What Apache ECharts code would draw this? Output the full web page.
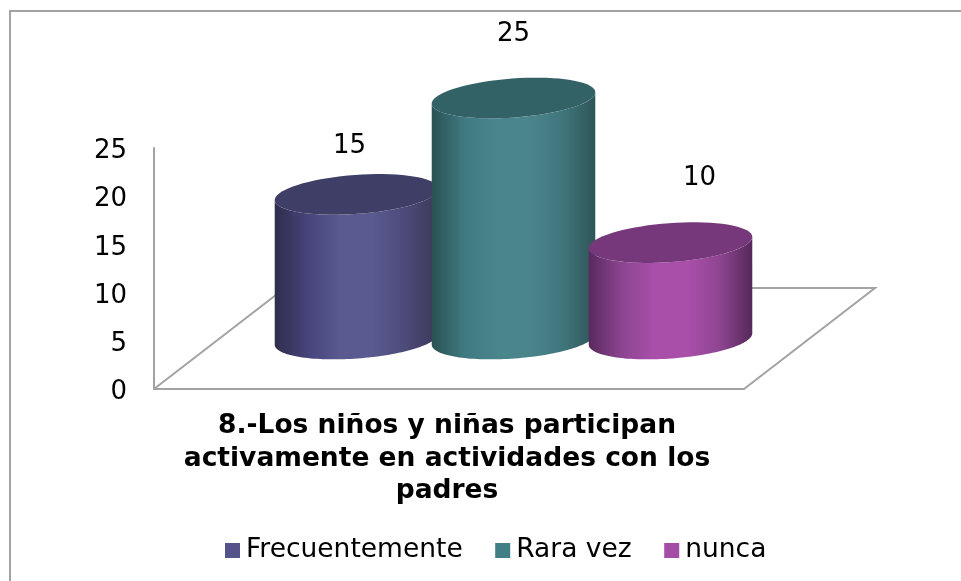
<!DOCTYPE html>
<html><head><meta charset="utf-8">
<style>html,body{margin:0;padding:0;background:#fff}#c{width:961px;height:581px}</style>
<script src="https://cdn.jsdelivr.net/npm/echarts@6/dist/echarts.min.js"></script>
</head><body><div id="c"></div>
<script>
const categories = ['8.-Los niños y niñas participan\nactivamente en actividades con los\npadres'];
const seriesNames = ['Frecuentemente', 'Rara vez', 'nunca'];
const frecuentemente = [15];
const raraVez = [25];
const nunca = [10];
const yTicks = {min: 0, max: 25, interval: 5};

const FONT = '"DejaVu Sans", Verdana, sans-serif';
const GRAY = '#a3a3a3';
const palette = [
  {legend:'#55548a', top:'#3f3e66', stops:['#2f2d4c','#46447a','#5a5a90','#5a5a90','#4c4a78','#3a3858']},
  {legend:'#417f86', top:'#336266', stops:['#2a5154','#3f7a80','#4b858c','#4b858c','#3f767c','#2f5558']},
  {legend:'#a44da6', top:'#76387a', stops:['#582a5e','#8c4490','#a94faa','#a94faa','#8f4592','#55285a']}
];
const barStep = 157, depthX = 64.5, depthY = 50, rx = 82, ry = 19.5, tilt = -4.2 * Math.PI / 180;
const labelShift = [[-7, -48], [0, -64], [29, -64]];
const floorDX = 131, floorDY = 101;

function ell(cx, cy, t) {
  const c = Math.cos(t), s = Math.sin(t), ct = Math.cos(tilt), st = Math.sin(tilt);
  return [cx + rx * c * ct - ry * s * st, cy + rx * c * st + ry * s * ct];
}
function arc(cx, cy, from, to) {
  const pts = [];
  for (let i = 0; i <= 72; i++) pts.push(ell(cx, cy, from + (to - from) * i / 72));
  return pts;
}
function cylinder(idx) {
  return function (params, api) {
    const base = api.coord([0, 0]);
    const v = api.value(1);
    const topP = api.coord([0, v]);
    const cx = base[0] + depthX + (idx - 1) * barStep;
    const by = base[1] - depthY;
    const ty = topP[1] - depthY;
    const p = palette[idx];
    const n = p.stops.length;
    const front = arc(cx, by, Math.PI, 0);
    const back = arc(cx, ty, 0, Math.PI);
    return {
      type: 'group',
      children: [
        {type: 'polygon', shape: {points: front.concat(back)},
         style: {fill: new echarts.graphic.LinearGradient(0, 0, 1, 0,
           p.stops.map((c, i) => ({offset: i / (n - 1), color: c})))}},
        {type: 'polygon', shape: {points: arc(cx, ty, 0, 2 * Math.PI)}, style: {fill: p.top}},
        {type: 'text', x: cx + labelShift[idx][0], y: ty + labelShift[idx][1],
         style: {text: String(v), fill: '#000', font: '26px ' + FONT, textAlign: 'center', textVerticalAlign: 'middle'}}
      ]
    };
  };
}
function floor(params, api) {
  const cs = params.coordSys;
  const y0 = cs.y + cs.height, x0 = cs.x, x1 = cs.x + cs.width;
  return {type: 'polyline', shape: {points: [[x0, y0], [x0 + floorDX, y0 - floorDY], [x1 + floorDX, y0 - floorDY], [x1, y0]]},
    style: {stroke: GRAY, lineWidth: 2, fill: null}};
}
const chart = echarts.init(document.getElementById('c'), null, {renderer: 'canvas'});
const mk = (name, vals, i) => ({
  name, type: 'custom', z: 3 + i, renderItem: cylinder(i),
  itemStyle: {color: palette[i].legend},
  encode: {x: 0, y: 1},
  data: vals.map((v, k) => [k, v])
});
chart.setOption({
  animation: false,
  backgroundColor: '#fff',
  textStyle: {fontFamily: FONT, color: '#000'},
  grid: {left: 154, right: 217, top: 148, bottom: 192, containLabel: false},
  graphic: [{type: 'polyline', silent: true, shape: {points: [[10, 581], [10, 11], [961, 11]]},
    style: {stroke: GRAY, lineWidth: 2, fill: null}}],
  legend: {
    left: 220, top: 532, icon: 'rect', itemWidth: 15, itemHeight: 15, itemGap: 32.5, itemStyle: {borderWidth: 0},
    data: seriesNames,
    textStyle: {fontFamily: FONT, fontSize: 26.5, color: '#000', padding: [0, 0, 0, 1]}
  },
  xAxis: {
    type: 'category', data: categories,
    axisLine: {show: true, lineStyle: {color: GRAY, width: 2}},
    axisTick: {show: false},
    axisLabel: {interval: 0, margin: 21, fontFamily: FONT, fontSize: 26.5, fontWeight: 'bold', color: '#000', lineHeight: 32.5, align: 'center', padding: [0, 4, 0, 0]}
  },
  yAxis: {
    type: 'value', min: yTicks.min, max: yTicks.max, interval: yTicks.interval,
    splitLine: {show: false},
    axisLine: {show: true, lineStyle: {color: GRAY, width: 2}},
    axisTick: {show: false},
    axisLabel: {margin: 27, color: '#000', formatter: '{n|{value}}',
      rich: {n: {fontFamily: FONT, fontSize: 26, color: '#000', padding: [7, 0, 0, 0]}}}
  },
  series: [
    {name: 'floor', type: 'custom', z: 1, renderItem: floor, data: [[0, 0]], silent: true},
    mk(seriesNames[0], frecuentemente, 0),
    mk(seriesNames[1], raraVez, 1),
    mk(seriesNames[2], nunca, 2)
  ]
});
</script></body></html>
